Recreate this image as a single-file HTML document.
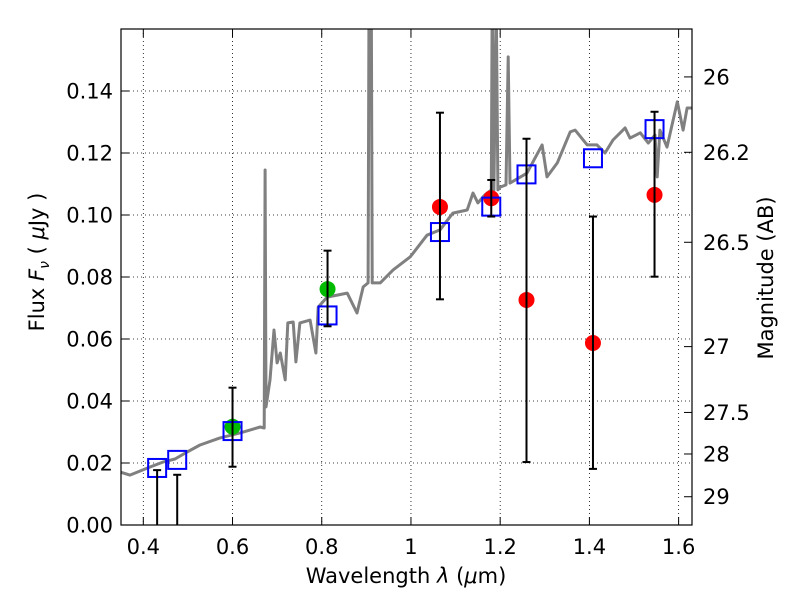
<!DOCTYPE html>
<html><head><meta charset="utf-8"><style>
body{margin:0;background:#fff}
svg text{font-family:"DejaVu Sans","Liberation Sans",sans-serif;fill:#000}
</style></head><body>
<svg id="chart" width="800" height="600" xmlns="http://www.w3.org/2000/svg">
<defs><clipPath id="clip"><rect x="121" y="29" width="571" height="496"/></clipPath></defs>
<rect width="800" height="600" fill="#fff"/>
<g id="grid"></g>
<g id="spec" clip-path="url(#clip)"></g>
<g id="marks" clip-path="url(#clip)"></g>
<g id="axes"></g>
</svg>
<script>
const specLam=[0.348,0.370,0.415,0.444,0.471,0.498,0.527,0.572,0.617,0.662,0.671,0.673,0.675,0.684,0.693,0.700,0.707,0.718,0.724,0.736,0.742,0.751,0.774,0.787,0.792,0.812,0.857,0.879,0.893,0.904,0.906,0.911,0.913,0.931,0.960,0.998,1.005,1.036,1.065,1.094,1.126,1.139,1.150,1.166,1.180,1.182,1.186,1.191,1.195,1.200,1.213,1.218,1.222,1.260,1.294,1.305,1.328,1.357,1.368,1.395,1.417,1.435,1.453,1.480,1.491,1.514,1.532,1.547,1.552,1.558,1.574,1.597,1.610,1.619,1.632];
const specFlux=[0.0171,0.0161,0.0187,0.0203,0.0213,0.0235,0.0258,0.0281,0.0297,0.0316,0.0313,0.1145,0.0381,0.0468,0.0629,0.0523,0.0555,0.0468,0.0652,0.0655,0.0526,0.0652,0.0661,0.0555,0.0703,0.0735,0.0748,0.0684,0.0768,0.0781,0.17,0.17,0.0781,0.0781,0.0823,0.0865,0.0877,0.0935,0.0952,0.1006,0.1016,0.1071,0.1039,0.1065,0.1081,0.17,0.1081,0.17,0.1081,0.1090,0.1097,0.1510,0.1103,0.1135,0.1226,0.1123,0.1168,0.1268,0.1274,0.1226,0.1226,0.1200,0.1242,0.1281,0.1248,0.1265,0.1232,0.1258,0.1123,0.1274,0.1219,0.1365,0.1274,0.1345,0.1345];
const modelLam=[0.431,0.476,0.600,0.813,1.065,1.180,1.259,1.408,1.546];
const modelFlux=[0.0184,0.0210,0.0303,0.0676,0.0945,0.1027,0.1131,0.1183,0.1277];
const obsFlux=[0,0,0.0317,0.0761,0.1026,0.1054,0.0726,0.0587,0.1065];
const obsLow=[0,0,0.0188,0.0641,0.0728,0.0995,0.0203,0.0181,0.0801];
const obsHigh=[0.0177,0.0162,0.0443,0.0885,0.1330,0.1113,0.1246,0.0995,0.1333];
const obsColor=['#00bb00','#00bb00','#00bb00','#00bb00','red','red','red','red','red'];
const xTicks=[0.4,0.6,0.8,1.0,1.2,1.4,1.6];
const xTickLabels=['0.4','0.6','0.8','1','1.2','1.4','1.6'];
const yTicks=[0,0.02,0.04,0.06,0.08,0.10,0.12,0.14];
const yTickLabels=['0.00','0.02','0.04','0.06','0.08','0.10','0.12','0.14'];
const magTicks=[26,26.2,26.5,27,27.5,28,29];
const magLabels=['26','26.2','26.5','27','27.5','28','29'];

const X0=121,X1=692,Y0=525,Y1=29,LMIN=0.35,LMAX=1.63,FMAX=0.16;
const sx=l=>X0+(l-LMIN)/(LMAX-LMIN)*(X1-X0);
const sy=f=>Y0-f/FMAX*(Y0-Y1);
const magToFlux=m=>Math.pow(10,(23.9-m)/2.5);
const NS='http://www.w3.org/2000/svg';
function mk(tag,attrs,parent,text){const e=document.createElementNS(NS,tag);for(const k in attrs)e.setAttribute(k,attrs[k]);if(text!==undefined)e.textContent=text;parent.appendChild(e);return e;}
const grid=document.getElementById('grid'),axes=document.getElementById('axes'),spec=document.getElementById('spec'),marks=document.getElementById('marks');

xTicks.forEach((t,i)=>{const x=sx(t);
 const g=mk('line',{x1:x,x2:x,y1:Y1,y2:Y0,stroke:'#000','stroke-width':0.8,'stroke-dasharray':'1,3'},grid);
 
 mk('line',{x1:x,x2:x,y1:Y0,y2:Y0-8,stroke:'#000'},axes);
 mk('line',{x1:x,x2:x,y1:Y1,y2:Y1+8,stroke:'#000'},axes);
 const l=mk('text',{x:x,y:554,'font-size':21,'text-anchor':'middle'},axes,xTickLabels[i]);
 
});
yTicks.forEach((t,i)=>{const y=sy(t);
 const g=mk('line',{x1:X0,x2:X1,y1:y,y2:y,stroke:'#000','stroke-width':0.8,'stroke-dasharray':'1,3'},grid);
 
 mk('line',{x1:X0,x2:X0+8,y1:y,y2:y,stroke:'#000'},axes);
 const l=mk('text',{x:113,y:y+7.5,'font-size':21,'text-anchor':'end'},axes,yTickLabels[i]);
 
});
magTicks.forEach((m,i)=>{const y=sy(magToFlux(m));
 mk('line',{x1:X1,x2:X1-8,y1:y,y2:y,stroke:'#000'},axes);
 const l=mk('text',{x:703,y:y+7.5,'font-size':21},axes,magLabels[i]);
 
});
const fr=mk('rect',{x:X0,y:Y1,width:X1-X0,height:Y0-Y1,fill:'none',stroke:'#000','stroke-width':1.2},axes);


const sp=mk('polyline',{points:specLam.map((l,i)=>sx(l).toFixed(1)+','+sy(specFlux[i]).toFixed(1)).join(' '),fill:'none',stroke:'#808080','stroke-width':3,'stroke-linejoin':'round'},spec);


modelLam.forEach((l,i)=>{const x=sx(l);
 const c=mk('circle',{cx:x,cy:sy(obsFlux[i])+(obsFlux[i]===0?9:0),r:8,fill:obsColor[i]},marks);
 
 const r=mk('rect',{x:x-9,y:sy(modelFlux[i])-9,width:18,height:18,fill:'none',stroke:'#0000ff','stroke-width':2},marks);
 
 const e=mk('g',{stroke:'#000','stroke-width':2},marks);
 
 mk('line',{x1:x,x2:x,y1:sy(obsLow[i]),y2:sy(obsHigh[i])},e);
 mk('line',{x1:x-4,x2:x+4,y1:sy(obsHigh[i]),y2:sy(obsHigh[i])},e);
 if(obsLow[i]>0)mk('line',{x1:x-4,x2:x+4,y1:sy(obsLow[i]),y2:sy(obsLow[i])},e);
});
</script>
<svg style="position:absolute;left:0;top:0" width="800" height="600" xmlns="http://www.w3.org/2000/svg">
<text x="406" y="583" font-size="21" text-anchor="middle" font-family="DejaVu Sans, sans-serif">Wavelength  <tspan font-style="italic">λ</tspan> (<tspan font-style="italic">μ</tspan>m)</text>
<text transform="translate(44,262) rotate(-90)" font-size="21" text-anchor="middle" font-family="DejaVu Sans, sans-serif">Flux  <tspan font-style="italic">F</tspan><tspan font-style="italic" font-size="14" dy="5">ν</tspan><tspan dy="-5">  ( </tspan><tspan font-style="italic">μ</tspan>Jy )</text>
<text transform="translate(773,278) rotate(-90)" font-size="21" text-anchor="middle" font-family="DejaVu Sans, sans-serif">Magnitude (AB)</text>
</svg>
</body></html>
